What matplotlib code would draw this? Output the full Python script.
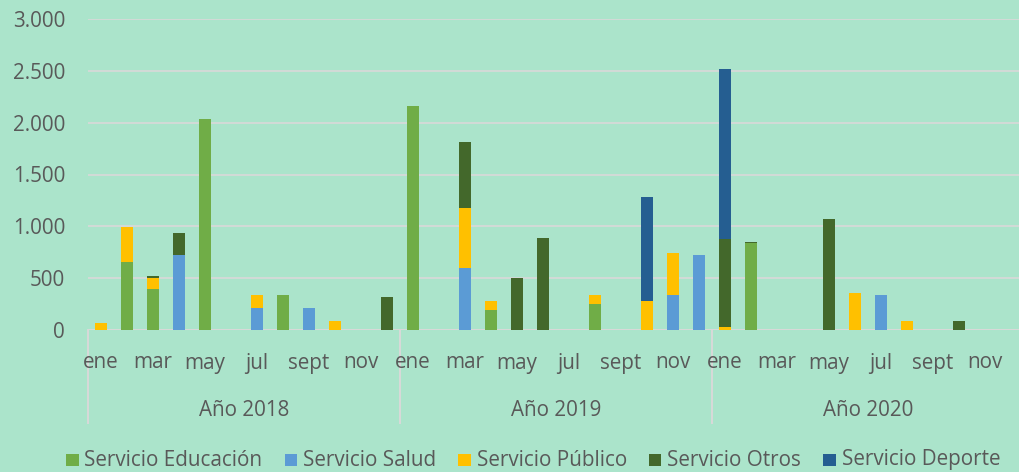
import matplotlib
matplotlib.use("Agg")
import matplotlib.pyplot as plt
from matplotlib.patches import Rectangle
import numpy as np

plt.rcParams['font.family'] = ['Open Sans', 'DejaVu Sans']

months = ["ene", "feb", "mar", "abr", "may", "jun", "jul", "ago", "sept", "oct", "nov", "dic"]
years = ["Año 2018", "Año 2019", "Año 2020"]

educacion = [0, 660, 400, 0, 2040, 0, 0, 335, 0, 0, 0, 0,
             2165, 0, 0, 190, 0, 0, 0, 255, 0, 0, 0, 0,
             0, 835, 0, 0, 0, 0, 0, 0, 0, 0, 0, 0]
salud = [0, 0, 0, 725, 0, 0, 210, 0, 210, 0, 0, 0,
         0, 0, 600, 0, 0, 0, 0, 0, 0, 0, 335, 725,
         0, 0, 0, 0, 0, 0, 340, 0, 0, 0, 0, 0]
publico = [70, 335, 100, 0, 0, 0, 130, 0, 0, 85, 0, 0,
           0, 0, 580, 85, 0, 0, 0, 85, 0, 275, 410, 0,
           30, 0, 0, 0, 0, 355, 0, 85, 0, 0, 0, 0]
otros = [0, 0, 25, 210, 0, 0, 0, 0, 0, 0, 0, 315,
         0, 0, 635, 0, 500, 890, 0, 0, 0, 0, 0, 0,
         845, 15, 0, 0, 1075, 0, 0, 0, 0, 85, 0, 0]
deporte = [0, 0, 0, 0, 0, 0, 0, 0, 0, 0, 0, 0,
           0, 0, 0, 0, 0, 0, 0, 0, 0, 1010, 0, 0,
           1640, 0, 0, 0, 0, 0, 0, 0, 0, 0, 0, 0]

series_names = ["Servicio Educación", "Servicio Salud", "Servicio Público",
                "Servicio Otros", "Servicio Deporte"]
series_vals = [educacion, salud, publico, otros, deporte]
colors = ["#70AD47", "#5B9BD5", "#FFC000", "#43682B", "#255E91"]

BG = "#ABE4CB"
TXT = "#595959"
GRID = "#D9D9D9"
FS = 14.9

W, H = 1020, 472
fig = plt.figure(figsize=(W / 100, H / 100), dpi=100, facecolor=BG)
ax_left, ax_right, ax_top, ax_bot = 88, 1024, 19, 330
ax = fig.add_axes([ax_left / W, (H - ax_bot) / H, (ax_right - ax_left) / W, (ax_bot - ax_top) / H])
ax.set_facecolor(BG)

n = len(educacion)
x = np.arange(n)
bottom = np.zeros(n)
for name, vals, c in zip(series_names, series_vals, colors):
    v = np.array(vals, dtype=float)
    ax.bar(x, v, bottom=bottom, width=0.43, color=c, label=name, zorder=3)
    bottom += v

ax.set_xlim(-0.5, n - 0.5)
ax.set_ylim(0, 3000)
ax.set_yticks(np.arange(0, 3001, 500))
ax.set_yticklabels([f"{v:,}".replace(",", ".") for v in range(0, 3001, 500)])
ax.tick_params(axis='y', length=0, pad=16.5, labelsize=FS, labelcolor=TXT)
ax.set_xticks([])
ax.yaxis.grid(True, color=GRID, linewidth=1.2, zorder=0)
for s in ax.spines.values():
    s.set_visible(False)
ax.axhline(0, color=GRID, linewidth=1.4, zorder=2)

tr = ax.get_xaxis_transform()
axh = ax_bot - ax_top
# month labels on every other month
for i in range(n):
    if i % 2 == 0:
        ax.text(i, -(363 - ax_bot) / axh, months[i % 12], transform=tr,
                ha='center', va='center', fontsize=FS, color=TXT)
# year labels and separators
for g, yl in enumerate(years):
    ax.text(g * 12 + 5.5, -(411 - ax_bot) / axh, yl, transform=tr,
            ha='center', va='center', fontsize=FS, color=TXT)
for g in range(4):
    ax.plot([g * 12 - 0.5, g * 12 - 0.5], [0, -(423 - ax_bot) / axh], transform=tr,
            color=GRID, linewidth=1.4, clip_on=False)

# legend, laid out manually
fig.canvas.draw()
renderer = fig.canvas.get_renderer()
xpos = 66
yc = 460
msz = 12.5
for name, c in zip(series_names, colors):
    fig.patches.append(Rectangle((xpos / W, (H - yc - msz / 2) / H), msz / W, msz / H,
                                 transform=fig.transFigure, facecolor=c, edgecolor='none'))
    t = fig.text((xpos + msz + 6) / W, (H - yc) / H, name, ha='left', va='center',
                 fontsize=FS, color=TXT)
    bb = t.get_window_extent(renderer)
    xpos = bb.x1 + 22

fig.savefig("out.png", dpi=100, facecolor=BG)
